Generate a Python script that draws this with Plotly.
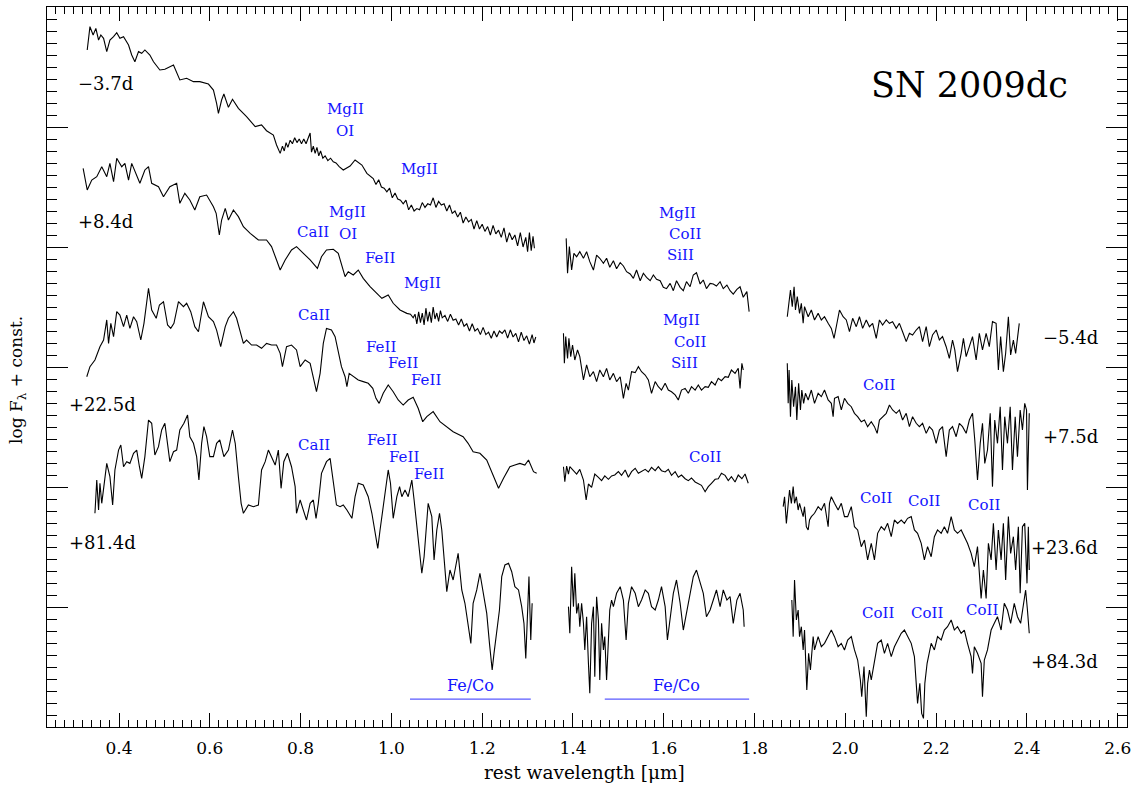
import plotly.graph_objects as go

# ---- optical spectra (left block), rest wavelength [um] / log F + const ----
OPT_M37_WAVE = [0.330, 0.336, 0.343, 0.349, 0.355, 0.360, 0.366, 0.373, 0.380, 0.388, 0.395, 0.402, 0.410, 0.421, 0.428, 0.435, 0.443, 0.450, 0.457, 0.468, 0.476, 0.490, 0.501, 0.512, 0.520, 0.534, 0.549, 0.564, 0.578, 0.597, 0.608, 0.615, 0.619, 0.626, 0.631, 0.641, 0.650, 0.663, 0.681, 0.700, 0.714, 0.725, 0.740, 0.747, 0.755, 0.760, 0.764, 0.768, 0.772, 0.777, 0.782, 0.787, 0.792, 0.797, 0.802, 0.807, 0.812, 0.817, 0.821, 0.824, 0.828, 0.832, 0.836, 0.840, 0.844, 0.849, 0.854, 0.860, 0.866, 0.872, 0.878, 0.885, 0.894, 0.909, 0.920, 0.935, 0.946, 0.960, 0.966, 0.972, 0.978, 0.984, 0.990, 0.996, 1.002, 1.008, 1.014, 1.020, 1.026, 1.032, 1.038, 1.044, 1.050, 1.056, 1.062, 1.068, 1.074, 1.080, 1.086, 1.092, 1.098, 1.104, 1.110, 1.116, 1.122, 1.128, 1.134, 1.140, 1.146, 1.152, 1.158, 1.164, 1.170, 1.176, 1.182, 1.188, 1.194, 1.200, 1.206, 1.212, 1.218, 1.224, 1.230, 1.236, 1.242, 1.248, 1.254, 1.260, 1.266, 1.272, 1.278, 1.284, 1.290, 1.296, 1.300, 1.304, 1.308, 1.312, 1.315]
OPT_M37_FLUX = [5.642, 5.836, 5.767, 5.822, 5.725, 5.767, 5.739, 5.628, 5.725, 5.753, 5.786, 5.739, 5.753, 5.683, 5.600, 5.544, 5.628, 5.614, 5.642, 5.600, 5.544, 5.475, 5.481, 5.503, 5.517, 5.392, 5.406, 5.378, 5.378, 5.358, 5.308, 5.197, 5.114, 5.225, 5.275, 5.164, 5.231, 5.156, 5.086, 5.003, 5.017, 4.969, 4.933, 4.850, 4.780, 4.840, 4.800, 4.870, 4.830, 4.890, 4.860, 4.910, 4.870, 4.900, 4.860, 4.900, 4.860, 4.910, 4.950, 4.790, 4.840, 4.780, 4.830, 4.760, 4.800, 4.740, 4.760, 4.720, 4.740, 4.710, 4.700, 4.670, 4.642, 4.675, 4.725, 4.683, 4.614, 4.570, 4.520, 4.560, 4.500, 4.490, 4.460, 4.490, 4.410, 4.450, 4.400, 4.390, 4.360, 4.390, 4.310, 4.350, 4.300, 4.320, 4.310, 4.370, 4.330, 4.360, 4.350, 4.410, 4.330, 4.380, 4.350, 4.360, 4.300, 4.350, 4.280, 4.300, 4.250, 4.290, 4.200, 4.250, 4.210, 4.230, 4.150, 4.220, 4.150, 4.190, 4.130, 4.170, 4.100, 4.180, 4.110, 4.140, 4.080, 4.160, 4.040, 4.120, 4.060, 4.100, 4.010, 4.120, 4.000, 4.080, 3.960, 4.120, 3.970, 4.090, 3.990]

OPT_P84_WAVE = [0.321, 0.330, 0.340, 0.351, 0.362, 0.373, 0.380, 0.388, 0.395, 0.406, 0.413, 0.421, 0.428, 0.439, 0.446, 0.457, 0.465, 0.472, 0.487, 0.498, 0.512, 0.527, 0.534, 0.545, 0.556, 0.567, 0.578, 0.593, 0.608, 0.614, 0.621, 0.626, 0.634, 0.641, 0.652, 0.663, 0.674, 0.689, 0.707, 0.725, 0.736, 0.747, 0.755, 0.766, 0.780, 0.791, 0.806, 0.821, 0.837, 0.846, 0.857, 0.872, 0.883, 0.898, 0.905, 0.916, 0.927, 0.938, 0.953, 0.968, 0.979, 0.993, 1.004, 1.019, 1.034, 1.042, 1.048, 1.052, 1.056, 1.060, 1.064, 1.068, 1.072, 1.076, 1.080, 1.084, 1.088, 1.092, 1.096, 1.100, 1.104, 1.108, 1.112, 1.118, 1.124, 1.130, 1.136, 1.142, 1.148, 1.154, 1.160, 1.166, 1.172, 1.178, 1.184, 1.190, 1.196, 1.202, 1.208, 1.214, 1.220, 1.226, 1.232, 1.238, 1.244, 1.250, 1.256, 1.262, 1.268, 1.274, 1.280, 1.286, 1.292, 1.298, 1.304, 1.310, 1.314, 1.318]
OPT_P84_FLUX = [4.656, 4.475, 4.558, 4.586, 4.669, 4.586, 4.697, 4.544, 4.739, 4.669, 4.697, 4.558, 4.697, 4.586, 4.531, 4.642, 4.669, 4.531, 4.503, 4.419, 4.503, 4.531, 4.364, 4.447, 4.392, 4.308, 4.419, 4.433, 4.336, 4.281, 4.100, 4.225, 4.322, 4.225, 4.308, 4.253, 4.169, 4.114, 4.058, 4.058, 4.003, 3.892, 3.808, 3.892, 3.975, 4.003, 3.947, 3.892, 3.822, 3.919, 3.975, 3.981, 3.947, 3.753, 3.794, 3.767, 3.808, 3.739, 3.669, 3.614, 3.572, 3.600, 3.531, 3.475, 3.447, 3.440, 3.410, 3.440, 3.360, 3.460, 3.370, 3.450, 3.350, 3.490, 3.380, 3.460, 3.370, 3.500, 3.400, 3.450, 3.380, 3.470, 3.410, 3.430, 3.380, 3.440, 3.390, 3.400, 3.350, 3.400, 3.340, 3.360, 3.300, 3.360, 3.300, 3.320, 3.270, 3.330, 3.270, 3.290, 3.240, 3.300, 3.250, 3.300, 3.280, 3.310, 3.240, 3.310, 3.250, 3.280, 3.210, 3.290, 3.220, 3.260, 3.190, 3.270, 3.200, 3.250]

OPT_P225_WAVE = [0.329, 0.336, 0.347, 0.358, 0.366, 0.373, 0.377, 0.382, 0.388, 0.395, 0.402, 0.410, 0.417, 0.424, 0.432, 0.439, 0.448, 0.455, 0.465, 0.472, 0.482, 0.489, 0.498, 0.507, 0.514, 0.521, 0.531, 0.542, 0.549, 0.558, 0.567, 0.575, 0.586, 0.597, 0.608, 0.615, 0.624, 0.634, 0.641, 0.652, 0.659, 0.674, 0.681, 0.692, 0.703, 0.714, 0.725, 0.736, 0.747, 0.755, 0.760, 0.769, 0.780, 0.791, 0.799, 0.810, 0.821, 0.828, 0.835, 0.843, 0.850, 0.857, 0.868, 0.876, 0.883, 0.890, 0.898, 0.902, 0.907, 0.916, 0.927, 0.938, 0.949, 0.959, 0.966, 0.973, 0.982, 0.993, 1.004, 1.015, 1.026, 1.037, 1.048, 1.059, 1.069, 1.078, 1.092, 1.107, 1.122, 1.136, 1.158, 1.169, 1.180, 1.195, 1.210, 1.225, 1.236, 1.247, 1.261, 1.272, 1.283, 1.294, 1.302, 1.313, 1.320]
OPT_P225_FLUX = [2.919, 3.003, 3.058, 3.169, 3.225, 3.392, 3.197, 3.364, 3.253, 3.461, 3.433, 3.336, 3.433, 3.322, 3.419, 3.378, 3.225, 3.364, 3.656, 3.475, 3.406, 3.517, 3.544, 3.350, 3.322, 3.364, 3.544, 3.503, 3.531, 3.461, 3.336, 3.294, 3.544, 3.419, 3.378, 3.308, 3.169, 3.336, 3.406, 3.461, 3.406, 3.197, 3.225, 3.183, 3.183, 3.156, 3.197, 3.183, 3.183, 3.114, 3.003, 3.169, 3.183, 3.142, 3.003, 3.058, 3.031, 2.919, 2.794, 2.947, 3.197, 3.322, 3.308, 3.253, 3.114, 3.003, 2.919, 2.836, 2.947, 2.925, 2.892, 2.878, 2.864, 2.822, 2.739, 2.697, 2.781, 2.850, 2.794, 2.725, 2.683, 2.725, 2.747, 2.656, 2.544, 2.586, 2.628, 2.544, 2.503, 2.461, 2.419, 2.364, 2.294, 2.281, 2.225, 2.086, 1.989, 2.072, 2.169, 2.183, 2.197, 2.183, 2.225, 2.128, 2.114]

OPT_P814_WAVE = [0.347, 0.351, 0.355, 0.358, 0.362, 0.366, 0.373, 0.380, 0.386, 0.391, 0.399, 0.404, 0.410, 0.417, 0.424, 0.432, 0.439, 0.445, 0.450, 0.457, 0.465, 0.472, 0.479, 0.487, 0.494, 0.501, 0.507, 0.512, 0.520, 0.527, 0.534, 0.543, 0.551, 0.556, 0.564, 0.571, 0.576, 0.582, 0.587, 0.593, 0.600, 0.608, 0.615, 0.622, 0.631, 0.641, 0.650, 0.656, 0.663, 0.669, 0.674, 0.685, 0.696, 0.707, 0.714, 0.722, 0.729, 0.736, 0.744, 0.751, 0.757, 0.763, 0.771, 0.780, 0.788, 0.791, 0.799, 0.806, 0.813, 0.821, 0.828, 0.834, 0.839, 0.846, 0.857, 0.865, 0.872, 0.879, 0.887, 0.894, 0.902, 0.913, 0.920, 0.927, 0.938, 0.949, 0.957, 0.964, 0.970, 0.975, 0.982, 0.988, 0.993, 0.998, 1.004, 1.012, 1.018, 1.023, 1.030, 1.037, 1.045, 1.050, 1.057, 1.067, 1.072, 1.078, 1.081, 1.089, 1.094, 1.100, 1.106, 1.111, 1.116, 1.122, 1.129, 1.136, 1.147, 1.155, 1.162, 1.169, 1.175, 1.180, 1.188, 1.195, 1.203, 1.210, 1.216, 1.222, 1.226, 1.232, 1.238, 1.243, 1.250, 1.258, 1.265, 1.272, 1.280, 1.287, 1.292, 1.296, 1.300, 1.303, 1.307, 1.310]
OPT_P814_FLUX = [1.781, 2.058, 1.808, 2.031, 1.864, 2.003, 2.197, 2.086, 1.850, 2.142, 2.308, 2.350, 2.169, 2.211, 2.197, 2.281, 2.308, 2.169, 2.072, 2.253, 2.558, 2.531, 2.267, 2.336, 2.475, 2.531, 2.336, 2.211, 2.294, 2.308, 2.475, 2.531, 2.600, 2.419, 2.364, 2.253, 2.058, 2.364, 2.503, 2.419, 2.253, 2.253, 2.364, 2.392, 2.253, 2.308, 2.475, 2.364, 2.086, 1.864, 1.781, 1.850, 1.836, 1.850, 2.142, 2.211, 2.308, 2.253, 2.183, 2.308, 1.989, 2.211, 2.281, 2.169, 2.003, 1.781, 1.892, 1.808, 1.725, 1.864, 1.892, 1.739, 1.864, 2.114, 2.211, 2.239, 2.031, 1.850, 1.836, 1.850, 1.808, 1.739, 1.919, 2.031, 2.017, 1.919, 1.781, 1.614, 1.489, 1.642, 1.836, 1.975, 2.142, 2.031, 1.739, 1.919, 2.003, 1.919, 1.975, 1.919, 2.058, 1.892, 1.642, 1.281, 1.419, 1.697, 1.864, 1.753, 1.392, 1.642, 1.781, 1.642, 1.392, 1.128, 1.308, 1.225, 1.447, 1.142, 1.031, 0.836, 0.697, 1.031, 1.142, 1.281, 1.114, 0.947, 0.697, 0.475, 0.614, 0.808, 0.975, 1.253, 1.350, 1.364, 1.294, 1.169, 1.142, 1.003, 0.864, 0.572, 1.003, 1.253, 0.725, 1.031]

# ---- near-infrared spectra: H band (middle block) ----
NIR_M54_H_WAVE = [1.385, 1.388, 1.392, 1.397, 1.402, 1.408, 1.415, 1.423, 1.430, 1.437, 1.445, 1.452, 1.459, 1.467, 1.474, 1.481, 1.489, 1.496, 1.504, 1.511, 1.518, 1.526, 1.533, 1.540, 1.548, 1.555, 1.562, 1.570, 1.577, 1.584, 1.592, 1.599, 1.606, 1.614, 1.621, 1.628, 1.636, 1.643, 1.650, 1.658, 1.665, 1.672, 1.680, 1.687, 1.694, 1.702, 1.709, 1.716, 1.724, 1.731, 1.739, 1.746, 1.753, 1.761, 1.768, 1.775, 1.783, 1.788]
NIR_M54_H_FLUX = [4.072, 3.781, 4.003, 3.808, 3.947, 3.919, 3.961, 3.906, 3.961, 3.878, 3.808, 3.933, 3.906, 3.864, 3.906, 3.831, 3.886, 3.819, 3.869, 3.842, 3.794, 3.775, 3.739, 3.808, 3.719, 3.781, 3.747, 3.719, 3.767, 3.731, 3.719, 3.664, 3.653, 3.697, 3.636, 3.719, 3.664, 3.636, 3.711, 3.669, 3.767, 3.786, 3.692, 3.725, 3.653, 3.697, 3.692, 3.675, 3.711, 3.653, 3.683, 3.636, 3.608, 3.647, 3.669, 3.581, 3.628, 3.461]

NIR_P75_H_WAVE = [1.379, 1.381, 1.384, 1.388, 1.391, 1.395, 1.399, 1.404, 1.410, 1.415, 1.423, 1.430, 1.437, 1.445, 1.452, 1.459, 1.467, 1.474, 1.481, 1.489, 1.496, 1.504, 1.511, 1.517, 1.522, 1.529, 1.537, 1.544, 1.551, 1.559, 1.566, 1.573, 1.581, 1.588, 1.595, 1.603, 1.610, 1.617, 1.625, 1.632, 1.639, 1.647, 1.654, 1.661, 1.669, 1.676, 1.683, 1.691, 1.698, 1.705, 1.713, 1.720, 1.727, 1.735, 1.742, 1.749, 1.757, 1.764, 1.768, 1.772, 1.775]
NIR_P75_H_FLUX = [3.281, 3.031, 3.253, 3.072, 3.239, 3.086, 3.183, 3.058, 3.142, 3.086, 2.892, 3.017, 2.919, 2.961, 2.878, 2.975, 2.919, 2.989, 2.892, 2.947, 2.878, 2.919, 2.739, 2.864, 2.808, 2.961, 2.953, 3.003, 2.961, 2.933, 2.892, 2.781, 2.878, 2.836, 2.808, 2.864, 2.808, 2.794, 2.767, 2.725, 2.808, 2.822, 2.781, 2.836, 2.808, 2.850, 2.808, 2.836, 2.831, 2.878, 2.850, 2.906, 2.886, 2.919, 2.914, 2.975, 2.947, 2.989, 2.822, 3.031, 2.975]

NIR_P236_H_WAVE = [1.379, 1.382, 1.386, 1.390, 1.393, 1.401, 1.408, 1.415, 1.423, 1.429, 1.434, 1.441, 1.448, 1.456, 1.463, 1.470, 1.478, 1.485, 1.492, 1.500, 1.507, 1.515, 1.522, 1.529, 1.537, 1.544, 1.551, 1.559, 1.566, 1.573, 1.581, 1.588, 1.595, 1.603, 1.610, 1.617, 1.625, 1.632, 1.639, 1.647, 1.654, 1.661, 1.669, 1.676, 1.683, 1.691, 1.698, 1.705, 1.713, 1.720, 1.727, 1.735, 1.742, 1.749, 1.757, 1.764, 1.772, 1.779, 1.786]
NIR_P236_H_FLUX = [2.169, 2.044, 2.175, 2.108, 2.169, 2.136, 2.108, 2.147, 2.058, 1.892, 2.025, 1.997, 2.108, 2.081, 2.053, 2.092, 2.064, 2.092, 2.100, 2.128, 2.097, 2.142, 2.081, 2.128, 2.156, 2.114, 2.128, 2.147, 2.125, 2.164, 2.136, 2.169, 2.136, 2.125, 2.147, 2.097, 2.128, 2.081, 2.100, 2.069, 2.053, 2.075, 2.042, 2.025, 2.014, 1.961, 2.003, 2.031, 2.064, 2.069, 2.114, 2.097, 2.053, 2.086, 2.042, 2.100, 2.069, 2.108, 2.031]

NIR_P843_H_WAVE = [1.390, 1.393, 1.397, 1.401, 1.404, 1.408, 1.412, 1.415, 1.419, 1.423, 1.426, 1.430, 1.434, 1.437, 1.441, 1.445, 1.448, 1.452, 1.456, 1.459, 1.463, 1.467, 1.470, 1.474, 1.478, 1.481, 1.485, 1.489, 1.496, 1.504, 1.511, 1.517, 1.522, 1.529, 1.537, 1.544, 1.551, 1.559, 1.566, 1.573, 1.581, 1.588, 1.595, 1.603, 1.608, 1.614, 1.621, 1.628, 1.636, 1.643, 1.650, 1.658, 1.665, 1.672, 1.680, 1.687, 1.694, 1.702, 1.709, 1.716, 1.724, 1.731, 1.739, 1.746, 1.753, 1.761, 1.768, 1.775, 1.777]
NIR_P843_H_FLUX = [1.003, 0.781, 1.336, 1.003, 1.281, 0.947, 1.031, 0.836, 1.031, 0.864, 0.642, 0.919, 0.531, 0.281, 0.864, 1.003, 0.419, 1.086, 0.892, 0.392, 0.864, 0.642, 0.753, 0.392, 0.725, 0.975, 1.058, 1.003, 1.114, 1.169, 1.058, 0.725, 1.031, 1.169, 1.114, 1.003, 1.058, 1.142, 1.114, 1.003, 0.975, 1.058, 1.169, 1.003, 0.725, 0.892, 1.114, 1.225, 1.031, 0.808, 0.947, 1.114, 1.253, 1.308, 1.197, 1.114, 0.919, 0.975, 1.058, 1.142, 1.003, 1.142, 1.058, 1.086, 0.864, 1.058, 1.114, 0.975, 0.836]

# ---- near-infrared spectra: K band (right block) ----
NIR_M54_K_WAVE = [1.872, 1.875, 1.879, 1.883, 1.887, 1.890, 1.894, 1.899, 1.903, 1.907, 1.910, 1.918, 1.925, 1.932, 1.940, 1.947, 1.954, 1.962, 1.969, 1.975, 1.980, 1.987, 1.995, 2.002, 2.009, 2.016, 2.024, 2.031, 2.038, 2.046, 2.053, 2.060, 2.068, 2.075, 2.082, 2.090, 2.097, 2.104, 2.112, 2.119, 2.126, 2.134, 2.141, 2.148, 2.156, 2.163, 2.170, 2.178, 2.185, 2.192, 2.200, 2.207, 2.214, 2.222, 2.229, 2.236, 2.241, 2.247, 2.255, 2.260, 2.266, 2.273, 2.280, 2.288, 2.295, 2.302, 2.310, 2.317, 2.324, 2.332, 2.337, 2.342, 2.348, 2.353, 2.359, 2.364, 2.370, 2.375, 2.381, 2.383]
NIR_M54_K_FLUX = [3.419, 3.531, 3.642, 3.503, 3.669, 3.475, 3.586, 3.447, 3.531, 3.364, 3.503, 3.419, 3.475, 3.392, 3.447, 3.392, 3.419, 3.364, 3.322, 3.239, 3.350, 3.475, 3.419, 3.392, 3.294, 3.406, 3.336, 3.419, 3.322, 3.392, 3.336, 3.364, 3.239, 3.392, 3.350, 3.392, 3.364, 3.378, 3.322, 3.364, 3.294, 3.211, 3.281, 3.267, 3.308, 3.336, 3.211, 3.336, 3.169, 3.267, 3.308, 3.225, 3.253, 3.169, 3.072, 3.225, 3.142, 2.961, 3.114, 3.239, 3.086, 3.169, 3.253, 3.058, 3.281, 3.142, 3.281, 3.169, 3.378, 3.364, 2.975, 3.253, 2.961, 3.114, 3.419, 3.100, 3.225, 3.114, 3.308, 3.364]

NIR_P75_K_WAVE = [1.872, 1.874, 1.876, 1.879, 1.882, 1.886, 1.890, 1.893, 1.897, 1.901, 1.904, 1.908, 1.912, 1.918, 1.925, 1.932, 1.940, 1.947, 1.954, 1.962, 1.969, 1.973, 1.976, 1.984, 1.991, 1.998, 2.005, 2.013, 2.020, 2.027, 2.035, 2.042, 2.049, 2.057, 2.064, 2.070, 2.075, 2.082, 2.090, 2.097, 2.104, 2.112, 2.119, 2.126, 2.134, 2.141, 2.148, 2.156, 2.163, 2.170, 2.178, 2.185, 2.192, 2.200, 2.207, 2.214, 2.222, 2.229, 2.236, 2.244, 2.251, 2.258, 2.266, 2.273, 2.280, 2.285, 2.291, 2.297, 2.302, 2.307, 2.313, 2.319, 2.324, 2.329, 2.335, 2.341, 2.346, 2.351, 2.357, 2.363, 2.368, 2.374, 2.379, 2.385, 2.390, 2.395, 2.399, 2.401, 2.405]
NIR_P75_K_FLUX = [3.031, 2.697, 2.975, 2.586, 2.892, 2.669, 2.836, 2.558, 2.864, 2.642, 2.808, 2.697, 2.781, 2.725, 2.808, 2.697, 2.781, 2.753, 2.808, 2.725, 2.697, 2.586, 2.739, 2.753, 2.642, 2.739, 2.697, 2.669, 2.614, 2.586, 2.544, 2.558, 2.503, 2.544, 2.503, 2.447, 2.558, 2.586, 2.614, 2.683, 2.642, 2.614, 2.642, 2.558, 2.614, 2.503, 2.586, 2.531, 2.503, 2.531, 2.447, 2.503, 2.475, 2.364, 2.475, 2.503, 2.253, 2.475, 2.503, 2.419, 2.531, 2.503, 2.447, 2.558, 2.614, 2.392, 2.058, 2.364, 2.531, 2.197, 2.308, 2.614, 2.003, 2.558, 2.364, 2.669, 2.142, 2.586, 2.364, 2.669, 2.142, 2.586, 2.253, 2.642, 2.475, 2.697, 2.642, 1.975, 2.614]

NIR_P236_K_WAVE = [1.863, 1.866, 1.870, 1.874, 1.877, 1.881, 1.885, 1.888, 1.892, 1.896, 1.899, 1.903, 1.907, 1.910, 1.914, 1.918, 1.921, 1.925, 1.932, 1.940, 1.947, 1.954, 1.962, 1.965, 1.969, 1.976, 1.984, 1.991, 1.998, 2.005, 2.013, 2.020, 2.027, 2.035, 2.042, 2.049, 2.057, 2.064, 2.071, 2.079, 2.086, 2.093, 2.101, 2.108, 2.115, 2.123, 2.130, 2.137, 2.145, 2.152, 2.159, 2.167, 2.174, 2.181, 2.189, 2.196, 2.203, 2.211, 2.218, 2.225, 2.233, 2.240, 2.247, 2.255, 2.262, 2.269, 2.277, 2.284, 2.291, 2.299, 2.304, 2.310, 2.315, 2.321, 2.326, 2.332, 2.337, 2.343, 2.348, 2.353, 2.359, 2.364, 2.370, 2.375, 2.381, 2.385, 2.390, 2.395, 2.400, 2.403, 2.405]
NIR_P236_K_FLUX = [1.836, 1.919, 1.697, 1.892, 1.975, 1.864, 2.003, 1.864, 1.919, 1.808, 1.864, 1.808, 1.753, 1.836, 1.669, 1.642, 1.725, 1.753, 1.781, 1.836, 1.808, 1.864, 1.669, 1.864, 1.919, 1.864, 1.808, 1.864, 1.753, 1.753, 1.836, 1.669, 1.642, 1.503, 1.558, 1.392, 1.531, 1.392, 1.614, 1.669, 1.642, 1.697, 1.586, 1.725, 1.697, 1.725, 1.697, 1.739, 1.753, 1.642, 1.614, 1.531, 1.392, 1.503, 1.419, 1.586, 1.642, 1.614, 1.669, 1.614, 1.753, 1.642, 1.614, 1.642, 1.586, 1.531, 1.447, 1.336, 1.503, 1.072, 1.308, 1.072, 1.531, 1.392, 1.697, 1.308, 1.642, 1.392, 1.697, 1.225, 1.753, 1.447, 1.586, 1.308, 1.669, 1.114, 1.669, 1.697, 1.197, 1.669, 1.308]

NIR_P843_K_WAVE = [1.882, 1.885, 1.888, 1.892, 1.896, 1.899, 1.903, 1.907, 1.910, 1.915, 1.919, 1.923, 1.929, 1.932, 1.940, 1.947, 1.954, 1.962, 1.969, 1.976, 1.984, 1.991, 1.998, 2.005, 2.013, 2.020, 2.027, 2.033, 2.036, 2.041, 2.046, 2.049, 2.053, 2.057, 2.064, 2.071, 2.079, 2.086, 2.093, 2.101, 2.108, 2.115, 2.123, 2.130, 2.137, 2.145, 2.152, 2.156, 2.159, 2.164, 2.168, 2.172, 2.175, 2.180, 2.189, 2.196, 2.203, 2.211, 2.218, 2.225, 2.233, 2.240, 2.247, 2.255, 2.262, 2.269, 2.277, 2.280, 2.284, 2.291, 2.299, 2.302, 2.306, 2.313, 2.321, 2.328, 2.335, 2.343, 2.350, 2.357, 2.364, 2.372, 2.379, 2.386, 2.392, 2.397, 2.401, 2.405]
NIR_P843_K_FLUX = [1.058, 0.753, 1.225, 0.892, 0.975, 0.753, 0.836, 0.642, 0.808, 0.308, 0.614, 0.475, 0.753, 0.642, 0.753, 0.669, 0.697, 0.753, 0.808, 0.753, 0.669, 0.697, 0.642, 0.725, 0.753, 0.642, 0.558, 0.392, 0.253, 0.503, 0.086, 0.364, 0.475, 0.392, 0.558, 0.697, 0.725, 0.614, 0.697, 0.586, 0.669, 0.725, 0.781, 0.808, 0.753, 0.697, 0.586, 0.336, 0.197, 0.364, 0.114, 0.072, 0.364, 0.531, 0.697, 0.642, 0.753, 0.725, 0.808, 0.836, 0.892, 0.808, 0.836, 0.781, 0.808, 0.697, 0.586, 0.447, 0.669, 0.614, 0.531, 0.253, 0.558, 0.642, 0.808, 0.864, 0.919, 0.808, 1.031, 0.975, 0.864, 1.031, 0.919, 0.864, 1.031, 1.142, 0.975, 0.781]

SPECTRA = [
    (OPT_M37_WAVE, OPT_M37_FLUX), (OPT_P84_WAVE, OPT_P84_FLUX),
    (OPT_P225_WAVE, OPT_P225_FLUX), (OPT_P814_WAVE, OPT_P814_FLUX),
    (NIR_M54_H_WAVE, NIR_M54_H_FLUX), (NIR_P75_H_WAVE, NIR_P75_H_FLUX),
    (NIR_P236_H_WAVE, NIR_P236_H_FLUX), (NIR_P843_H_WAVE, NIR_P843_H_FLUX),
    (NIR_M54_K_WAVE, NIR_M54_K_FLUX), (NIR_P75_K_WAVE, NIR_P75_K_FLUX),
    (NIR_P236_K_WAVE, NIR_P236_K_FLUX), (NIR_P843_K_WAVE, NIR_P843_K_FLUX),
]

# phase labels: (text, wavelength, level)
OPT_PHASES = [("\u22123.7d", 0.305, 5.36), ("+8.4d", 0.305, 4.21),
              ("+22.5d", 0.285, 2.69), ("+81.4d", 0.285, 1.54)]
NIR_PHASES = [("\u22125.4d", 2.561, 3.25), ("+7.5d", 2.561, 2.42),
              ("+23.6d", 2.561, 1.50), ("+84.3d", 2.561, 0.55)]

# line identifications: (ion, wavelength, level)
LINE_IDS = [
    ("MgII", 0.898, 5.15), ("OI", 0.898, 4.97), ("MgII", 1.061, 4.65),
    ("MgII", 0.903, 4.29), ("CaII", 0.828, 4.125), ("OI", 0.904, 4.11),
    ("FeII", 0.975, 3.91), ("MgII", 1.068, 3.70), ("CaII", 0.830, 3.43),
    ("FeII", 0.977, 3.17), ("FeII", 1.026, 3.03), ("FeII", 1.076, 2.89),
    ("CaII", 0.830, 2.35), ("FeII", 0.979, 2.39), ("FeII", 1.028, 2.25),
    ("FeII", 1.083, 2.11),
    ("MgII", 1.630, 4.28), ("CoII", 1.647, 4.105), ("SiII", 1.636, 3.93),
    ("MgII", 1.639, 3.39), ("CoII", 1.658, 3.205), ("SiII", 1.645, 3.03),
    ("CoII", 1.691, 2.25),
    ("CoII", 2.073, 2.85), ("CoII", 2.067, 1.905), ("CoII", 2.174, 1.883),
    ("CoII", 2.306, 1.847), ("CoII", 2.071, 0.947), ("CoII", 2.179, 0.947),
    ("CoII", 2.301, 0.975),
]

# Fe/Co blends: (start, end) wavelengths, bar level, label level
FECO_BANDS = [(1.041, 1.307), (1.470, 1.788)]
FECO_BAR_LEVEL = 0.232
FECO_LABEL_LEVEL = 0.35

X_RANGE = [0.2414, 2.6203]
Y_RANGE = [0, 6]

SERIF = "DejaVu Serif"
BLUE = "rgb(20,20,255)"

fig = go.Figure()

for wave, flux in SPECTRA:
    fig.add_trace(go.Scatter(x=wave, y=flux, mode="lines",
                             line=dict(color="black", width=1.1),
                             hoverinfo="skip", showlegend=False))

for lo, hi in FECO_BANDS:
    fig.add_trace(go.Scatter(x=[lo, hi], y=[FECO_BAR_LEVEL, FECO_BAR_LEVEL],
                             mode="lines", line=dict(color="rgb(90,90,255)", width=1.2),
                             hoverinfo="skip", showlegend=False))
    fig.add_annotation(x=(lo + hi) / 2, y=FECO_LABEL_LEVEL, text="Fe/Co",
                       showarrow=False, font=dict(family=SERIF, size=16, color=BLUE))

# empty trace so the top/right tick axes get drawn
fig.add_trace(go.Scatter(x=[None], y=[None], xaxis="x2", yaxis="y2",
                         mode="lines", hoverinfo="skip", showlegend=False))

for ion, wl, lev in LINE_IDS:
    fig.add_annotation(x=wl, y=lev, text=ion, showarrow=False,
                       font=dict(family=SERIF, size=15, color=BLUE))

for txt, wl, lev in OPT_PHASES:
    fig.add_annotation(x=wl, y=lev, text=txt, showarrow=False, xanchor="left",
                       font=dict(family=SERIF, size=18, color="black"))
for txt, wl, lev in NIR_PHASES:
    fig.add_annotation(x=wl, y=lev, text=txt, showarrow=False, xanchor="right",
                       font=dict(family=SERIF, size=18, color="black"))

fig.add_annotation(x=2.274, y=5.35, text="SN 2009dc", showarrow=False,
                   font=dict(family=SERIF, size=35, color="black"))

# axis titles
fig.add_annotation(xref="paper", yref="paper", x=0.498, y=-0.0625,
                   xanchor="center", yanchor="middle",
                   text="rest wavelength [\u03bcm]", showarrow=False,
                   font=dict(family=SERIF, size=18.5, color="black"))
fig.add_annotation(xref="paper", yref="paper", x=-0.0269, y=0.482,
                   xanchor="center", yanchor="middle",
                   text="log F<sub>\u03bb</sub> + const.", showarrow=False,
                   textangle=-90, font=dict(family=SERIF, size=17, color="black"))

tick_style = dict(ticks="inside", tickwidth=1, tickcolor="black",
                  showgrid=False, zeroline=False, automargin=False)

fig.update_layout(
    width=1135, height=787,
    margin=dict(l=47, r=8, t=7, b=60),
    paper_bgcolor="white", plot_bgcolor="white",
    xaxis=dict(
        range=X_RANGE, dtick=0.2, tick0=0, tickformat=".1f", ticklen=14,
        ticklabelstandoff=6,
        minor=dict(dtick=0.02, ticks="inside", ticklen=7, tickcolor="black"),
        showline=True, linecolor="black", linewidth=1, mirror=True,
        tickfont=dict(family=SERIF, size=17, color="black"), **tick_style,
    ),
    yaxis=dict(
        range=Y_RANGE, dtick=1, tick0=0, showticklabels=False, ticklen=21,
        minor=dict(dtick=0.1, ticks="inside", ticklen=10, tickcolor="black"),
        showline=True, linecolor="black", linewidth=1, mirror=True,
        **tick_style,
    ),
    xaxis2=dict(
        overlaying="x", side="top", anchor="y2", range=X_RANGE, dtick=0.2, tick0=0,
        showticklabels=False, ticklen=14,
        minor=dict(dtick=0.02, ticks="inside", ticklen=7, tickcolor="black"),
        showline=False, **tick_style,
    ),
    yaxis2=dict(
        overlaying="y", side="right", anchor="x2", range=Y_RANGE, dtick=1, tick0=0,
        showticklabels=False, ticklen=21,
        minor=dict(dtick=0.1, ticks="inside", ticklen=10, tickcolor="black"),
        showline=False, **tick_style,
    ),
)

# the page body has a default 8px margin; drop it so the figure sits at the corner
fig.write_html("out.html", config={"displayModeBar": False},
               post_script="document.body.style.margin='0';")
